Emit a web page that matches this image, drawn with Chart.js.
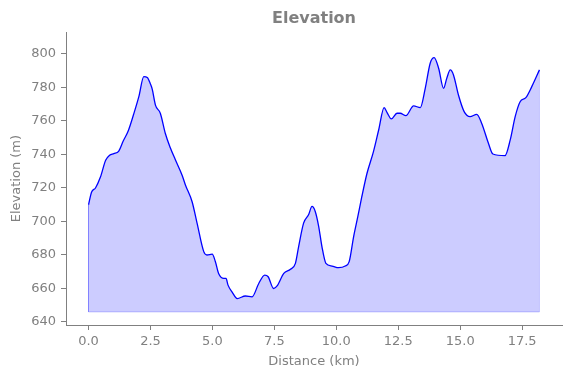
<!DOCTYPE html>
<html>
<head>
<meta charset="utf-8">
<script src="https://cdn.jsdelivr.net/npm/chart.js@4.4.1/dist/chart.umd.min.js"></script>
<style>
  html, body { margin: 0; padding: 0; background: #ffffff; }
  #wrap { width: 571px; height: 378px; }
</style>
</head>
<body>
<div id="wrap"><canvas id="c" width="571" height="378"></canvas></div>
<script>
const distanceKm = [0.00,0.12,0.28,0.48,0.69,0.85,1.02,1.22,1.40,1.60,1.82,2.03,2.23,2.37,2.50,2.57,2.70,2.90,3.10,3.30,3.50,3.78,3.91,4.18,4.38,4.65,4.78,4.99,5.12,5.25,5.46,5.55,5.63,5.79,6.00,6.33,6.60,6.87,7.11,7.25,7.47,7.61,7.88,8.15,8.35,8.48,8.68,8.88,9.02,9.15,9.29,9.42,9.58,9.83,10.09,10.36,10.52,10.70,10.87,11.03,11.24,11.50,11.71,11.93,12.05,12.22,12.45,12.58,12.81,13.12,13.39,13.59,13.79,13.95,14.13,14.33,14.46,14.60,14.73,14.93,15.16,15.40,15.67,15.87,16.14,16.32,16.81,17.02,17.22,17.42,17.65,17.89,18.20];
const elevationM = [710,717.5,720,726.5,736.5,739.5,740.5,742,748,754,764,774.5,786.5,786,782,779,769.5,764.5,752.5,744,737,727.5,721.8,711.8,699,682,680,680.5,676,669,666,666,662,658,654,655.5,655,663,668,667,660,661.5,669,671.5,675,685,699,704,709,706,697,685,675,673.4,672.4,673.4,676,691,703,714.8,728.8,741.7,754.6,768,765,761.2,764.6,764.6,763.2,769,768,779.5,794.5,797.8,791.5,779.5,785.5,790.5,787.5,775.5,765.6,762.6,764,758.5,746.7,740.3,739.3,748.7,762.6,771.5,773.9,780.5,790.5];
const fillBase = 646;
const xTicks = [0, 2.5, 5, 7.5, 10, 12.5, 15, 17.5];
const yTicks = [640, 660, 680, 700, 720, 740, 760, 780, 800];

const GRAY = '#808080';
const FONT = 'DejaVu Sans';

const profile = distanceKm.map((d, i) => ({ x: d, y: elevationM[i] }));
const first = distanceKm[0], last = distanceKm[distanceKm.length - 1];
const edge = [
  { x: first, y: elevationM[0] },
  { x: first, y: fillBase },
  { x: last, y: fillBase },
  { x: last, y: elevationM[elevationM.length - 1] }
];

new Chart(document.getElementById('c'), {
  type: 'line',
  data: {
    datasets: [
      {
        label: 'edge',
        data: edge,
        borderColor: 'rgba(0,0,255,0.2)',
        borderWidth: 1,
        pointRadius: 0,
        fill: false,
        tension: 0
      },
      {
        label: 'Elevation',
        data: profile,
        borderColor: '#0000ff',
        borderWidth: 1.3,
        backgroundColor: 'rgba(0,0,255,0.2)',
        pointRadius: 0,
        fill: { value: fillBase },
        cubicInterpolationMode: 'monotone'
      }
    ]
  },
  options: {
    responsive: false,
    animation: false,
    layout: { padding: { left: 0, right: 9, top: 0, bottom: 0 } },
    plugins: {
      legend: { display: false },
      tooltip: { enabled: false },
      title: {
        display: true,
        fullSize: false,
        text: 'Elevation',
        color: GRAY,
        font: { family: FONT, size: 16, weight: 'bold' },
        padding: { top: 9, bottom: 4 }
      }
    },
    scales: {
      x: {
        type: 'linear',
        min: -0.91,
        max: 19.11,
        afterBuildTicks: (s) => { s.ticks = xTicks.map(v => ({ value: v })); },
        afterFit: (s) => { s.height = 53; },
        ticks: {
          color: GRAY,
          font: { family: FONT, size: 13 },
          padding: 4,
          maxRotation: 0,
          autoSkip: false,
          callback: (v) => Number(v).toFixed(1)
        },
        grid: { display: true, drawOnChartArea: false, drawTicks: true, tickLength: 5, color: GRAY },
        border: { display: true, color: GRAY, width: 1 },
        title: {
          display: true,
          text: 'Distance (km)',
          color: GRAY,
          font: { family: FONT, size: 13 },
          padding: { top: 0, bottom: 9 }
        }
      },
      y: {
        type: 'linear',
        min: 638.2,
        max: 813,
        afterBuildTicks: (s) => { s.ticks = yTicks.map(v => ({ value: v })); },
        afterFit: (s) => { s.width = 66; },
        ticks: {
          color: GRAY,
          font: { family: FONT, size: 13 },
          padding: 5,
          autoSkip: false
        },
        grid: { display: true, drawOnChartArea: false, drawTicks: true, tickLength: 5, color: GRAY },
        border: { display: true, color: GRAY, width: 1 },
        title: {
          display: true,
          text: 'Elevation (m)',
          color: GRAY,
          font: { family: FONT, size: 13 },
          padding: { top: 9, bottom: 0 }
        }
      }
    }
  }
});
</script>
</body>
</html>
